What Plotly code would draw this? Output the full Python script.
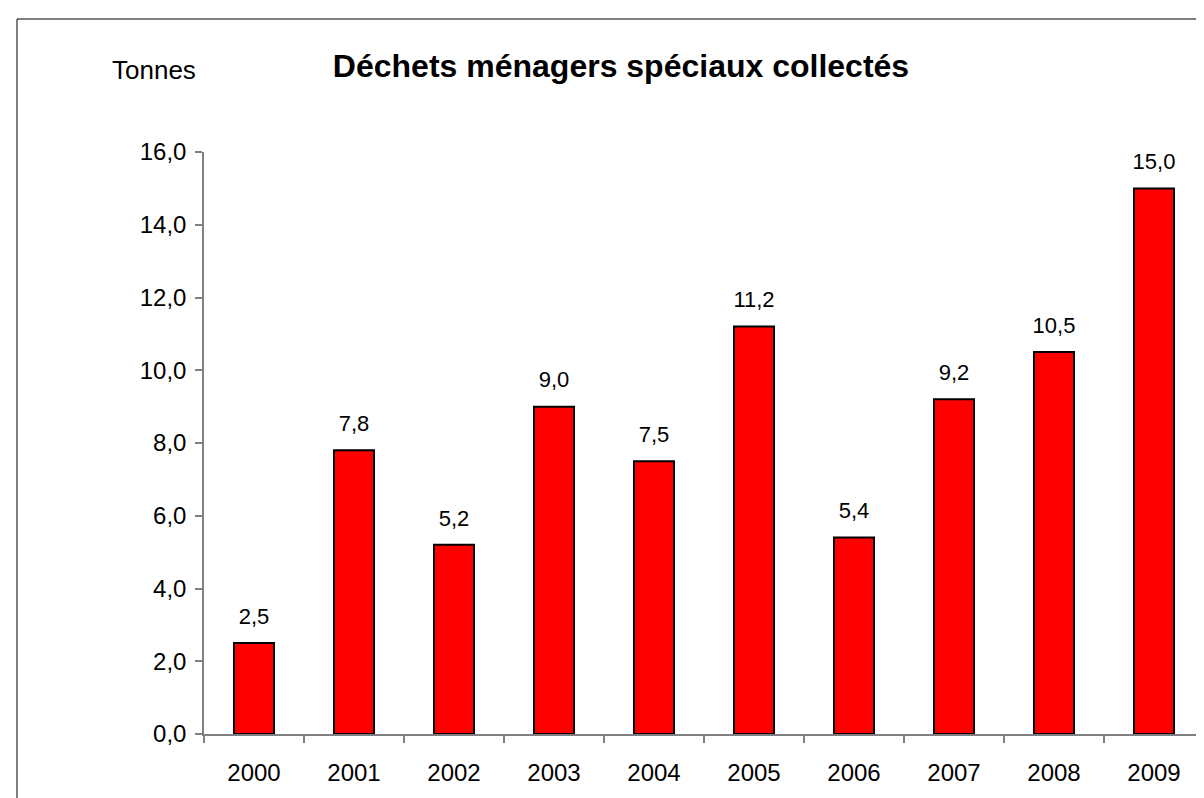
import plotly.graph_objects as go

years = ["2000", "2001", "2002", "2003", "2004", "2005", "2006", "2007", "2008", "2009"]
tonnes = [2.5, 7.8, 5.2, 9.0, 7.5, 11.2, 5.4, 9.2, 10.5, 15.0]
y_ticks = [0, 2, 4, 6, 8, 10, 12, 14, 16]

FONT = "Liberation Sans, Arial, sans-serif"
label_offset = 0.68

fig = go.Figure()
fig.add_trace(go.Bar(
    x=years, y=tonnes,
    marker=dict(color="#FF0000", line=dict(color="#000000", width=2)),
    width=0.40,
    hoverinfo="skip",
))
fig.add_trace(go.Scatter(
    x=years, y=[v + label_offset for v in tonnes],
    mode="text",
    text=[f"{v:.1f}".replace(".", ",") for v in tonnes],
    textposition="middle center",
    textfont=dict(family=FONT, size=22, color="#000000"),
    hoverinfo="skip",
))

fig.update_layout(
    width=1204, height=798,
    margin=dict(l=196, r=8, t=144, b=72),
    paper_bgcolor="#FFFFFF", plot_bgcolor="#FFFFFF",
    showlegend=False,
    separators=", ",
    font=dict(family=FONT, color="#000000"),
    title=dict(
        text="<b>Déchets ménagers spéciaux collectés</b>",
        x=613 / 1204, xanchor="center", xref="container",
        y=1 - 58 / 798, yanchor="middle", yref="container",
        font=dict(family=FONT, size=32, color="#000000"),
    ),
    annotations=[dict(
        text="Tonnes", xref="paper", yref="paper",
        x=(146 - 196) / 1000, y=(726 - 62) / 582,
        xanchor="center", yanchor="middle", showarrow=False,
        font=dict(family=FONT, size=26, color="#000000"),
    )],
    shapes=[dict(
        type="rect", xref="paper", yref="paper",
        x0=(9 - 196) / 1000, x1=1.02, y0=-0.2, y1=(726 - 11) / 582,
        line=dict(color="#000000", width=1), fillcolor="rgba(0,0,0,0)",
        layer="below",
    )],
    xaxis=dict(
        type="category", showgrid=False, zeroline=False,
        showline=True, linecolor="#808080", linewidth=1.5,
        ticks="outside", tickson="boundaries", ticklen=7,
        tickcolor="#808080", tickwidth=1.5,
        tickfont=dict(family=FONT, size=24, color="#000000"),
        ticklabelstandoff=16,
        range=[-0.5, 9.5],
    ),
    yaxis=dict(
        range=[0, 16], tickvals=y_ticks, tickformat=".1f",
        showgrid=False, zeroline=False,
        showline=True, linecolor="#808080", linewidth=1.5,
        ticks="outside", ticklen=7, tickcolor="#808080", tickwidth=1.5,
        tickfont=dict(family=FONT, size=24, color="#000000"),
        ticklabelstandoff=4,
    ),
)

fig.write_html("out.html")
